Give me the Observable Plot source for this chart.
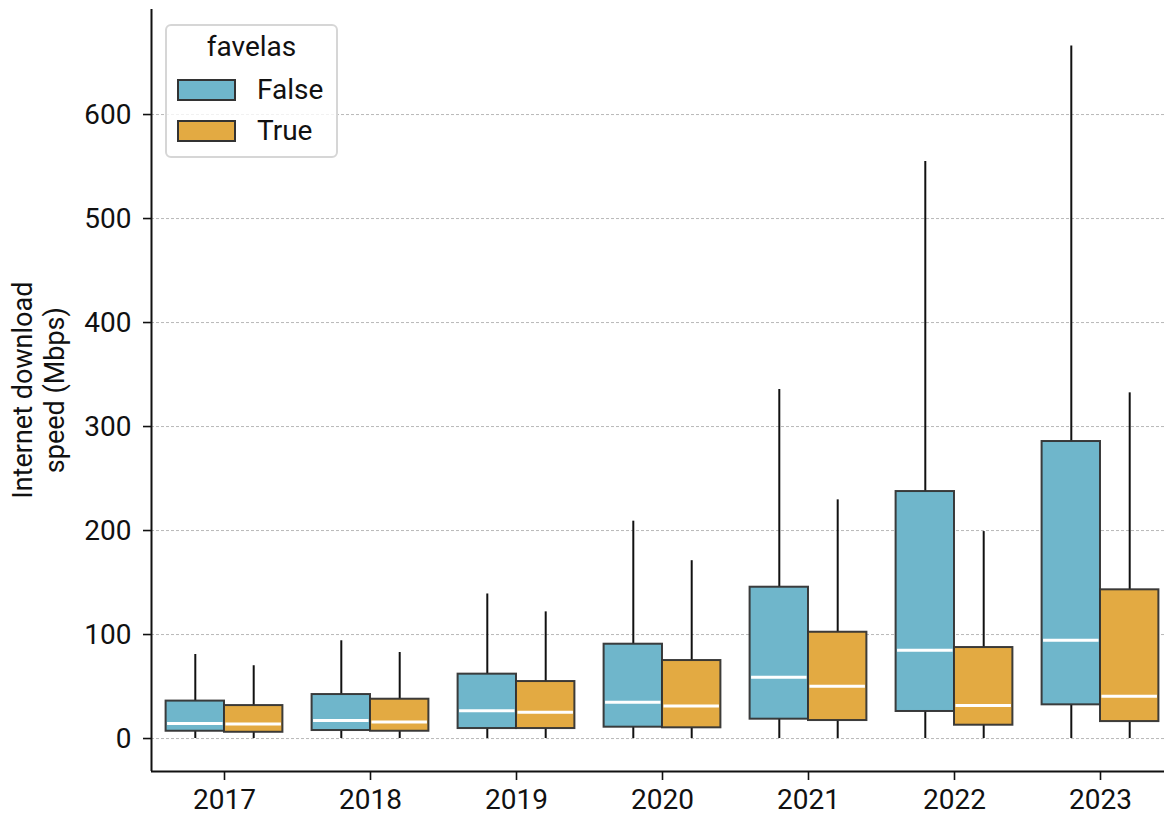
<!DOCTYPE html>
<html>
<head>
<meta charset="utf-8">
<script src="https://cdn.jsdelivr.net/npm/d3@7"></script>
<script src="https://cdn.jsdelivr.net/npm/@observablehq/plot@0.6"></script>
<style>
  body { margin: 0; background: #fff; }
  #wrap { position: relative; width: 1164px; height: 816px; overflow: hidden; font-family: Roboto, sans-serif; }
  #legend { position: absolute; left: 165px; top: 24px; width: 169px; height: 130px;
    border: 2px solid #d6d6d6; border-radius: 6px; background: rgba(255,255,255,0.8);
    font-family: Roboto, sans-serif; color: #111; }
  #legend .title { position: absolute; left: 0; width: 100%; top: 7px; text-align: center; font-size: 28px; line-height: 28px; }
  #legend .item { position: absolute; left: 10px; height: 22px; }
  #legend .sw { position: absolute; left: 0; top: 0; width: 55px; height: 18px; border: 2px solid #333; }
  #legend .lab { position: absolute; left: 80px; top: -3px; font-size: 28px; line-height: 28px; white-space: nowrap; }
</style>
</head>
<body>
<div id="wrap"></div>
<script>
const years = ["2017", "2018", "2019", "2020", "2021", "2022", "2023"];
const hues = ["False", "True"];
const hueColors = ["#6fb6cb", "#e3aa42"];
const yTicks = [0, 100, 200, 300, 400, 500, 600];
const yLabelLines = ["Internet download", "speed (Mbps)"];

// favelas = False
const falseLow  = [0, 0, 0, 0, 0, 0, 0];
const falseQ1   = [7, 7.7, 9.6, 10.9, 18.6, 26, 32.4];
const falseMed  = [14.5, 17.3, 26.6, 34.9, 59, 85, 94.5];
const falseQ3   = [36, 42.3, 61.9, 90.7, 145.5, 237.5, 285.6];
const falseHigh = [80.8, 94, 139, 209, 335.6, 554.8, 666];

// favelas = True
const trueLow  = [0, 0, 0, 0, 0, 0, 0];
const trueQ1   = [6, 7, 9.6, 10.3, 17.3, 12.8, 16.3];
const trueMed  = [14, 16, 25.3, 31.4, 50.3, 31.7, 40.7];
const trueQ3   = [31.7, 37.8, 54.8, 75, 102.2, 87.5, 143];
const trueHigh = [70, 82.7, 121.8, 171, 229.5, 199, 332.4];

const rows = [];
years.forEach((y, i) => {
  rows.push({year: y, i, hue: "False", off: -0.2, low: falseLow[i], q1: falseQ1[i], med: falseMed[i], q3: falseQ3[i], high: falseHigh[i]});
  rows.push({year: y, i, hue: "True", off: 0.2, low: trueLow[i], q1: trueQ1[i], med: trueMed[i], q3: trueQ3[i], high: trueHigh[i]});
});
const half = 0.2;
const yMin = -31.7;

const chart = Plot.plot({
  width: 1164,
  height: 816,
  marginTop: 9,
  marginBottom: 45,
  marginLeft: 151,
  marginRight: 0,
  style: {fontFamily: "Roboto, sans-serif", fontSize: "28px", color: "#111", background: "#fff"},
  x: {type: "linear", domain: [-0.5, 6.5], range: [151, 1173]},
  y: {domain: [yMin, 701]},
  color: {domain: hues, range: hueColors},
  marks: [
    Plot.gridY(yTicks, {stroke: "#b0b0b0", strokeOpacity: 1, strokeWidth: 0.9, strokeDasharray: "3,2"}),
    Plot.ruleX(rows, {x: d => d.i + d.off, y1: "q3", y2: "high", stroke: "#111", strokeWidth: 2}),
    Plot.ruleX(rows, {x: d => d.i + d.off, y1: "low", y2: "q1", stroke: "#111", strokeWidth: 2}),
    Plot.rect(rows, {x1: d => d.i + d.off - half, x2: d => d.i + d.off + half, y1: "q1", y2: "q3",
      fill: "hue", stroke: "#333", strokeWidth: 2, strokeOpacity: 0.95}),
    Plot.ruleY(rows, {y: "med", x1: d => d.i + d.off - half + 0.01, x2: d => d.i + d.off + half - 0.01, stroke: "#fff", strokeWidth: 3}),
    Plot.axisY(yTicks, {tickSize: 8, tickPadding: 12, label: null, stroke: "#111", strokeWidth: 1.6, fill: "#111"}),
    Plot.axisX(d3.range(years.length), {tickSize: 9, tickPadding: 9, tickFormat: i => years[i], label: null, stroke: "#111", strokeWidth: 1.6, fill: "#111"}),
    Plot.ruleX([-0.5], {stroke: "#111", strokeWidth: 2}),
    Plot.ruleY([yMin], {stroke: "#111", strokeWidth: 2}),
    Plot.text(yLabelLines, {
      x: (d, k) => k === 0 ? -1.376 : -1.16, y: 335, text: d => d, rotate: -90,
      fontSize: 27, fill: "#111"
    })
  ]
});
document.getElementById("wrap").appendChild(chart);

const lg = document.createElement("div");
lg.id = "legend";
lg.innerHTML = `<div class="title">favelas</div>` + hues.map((h, k) =>
  `<div class="item" style="top:${53 + k * 41}px"><div class="sw" style="background:${hueColors[k]}"></div><div class="lab">${h}</div></div>`
).join("");
document.getElementById("wrap").appendChild(lg);
</script>
</body>
</html>
